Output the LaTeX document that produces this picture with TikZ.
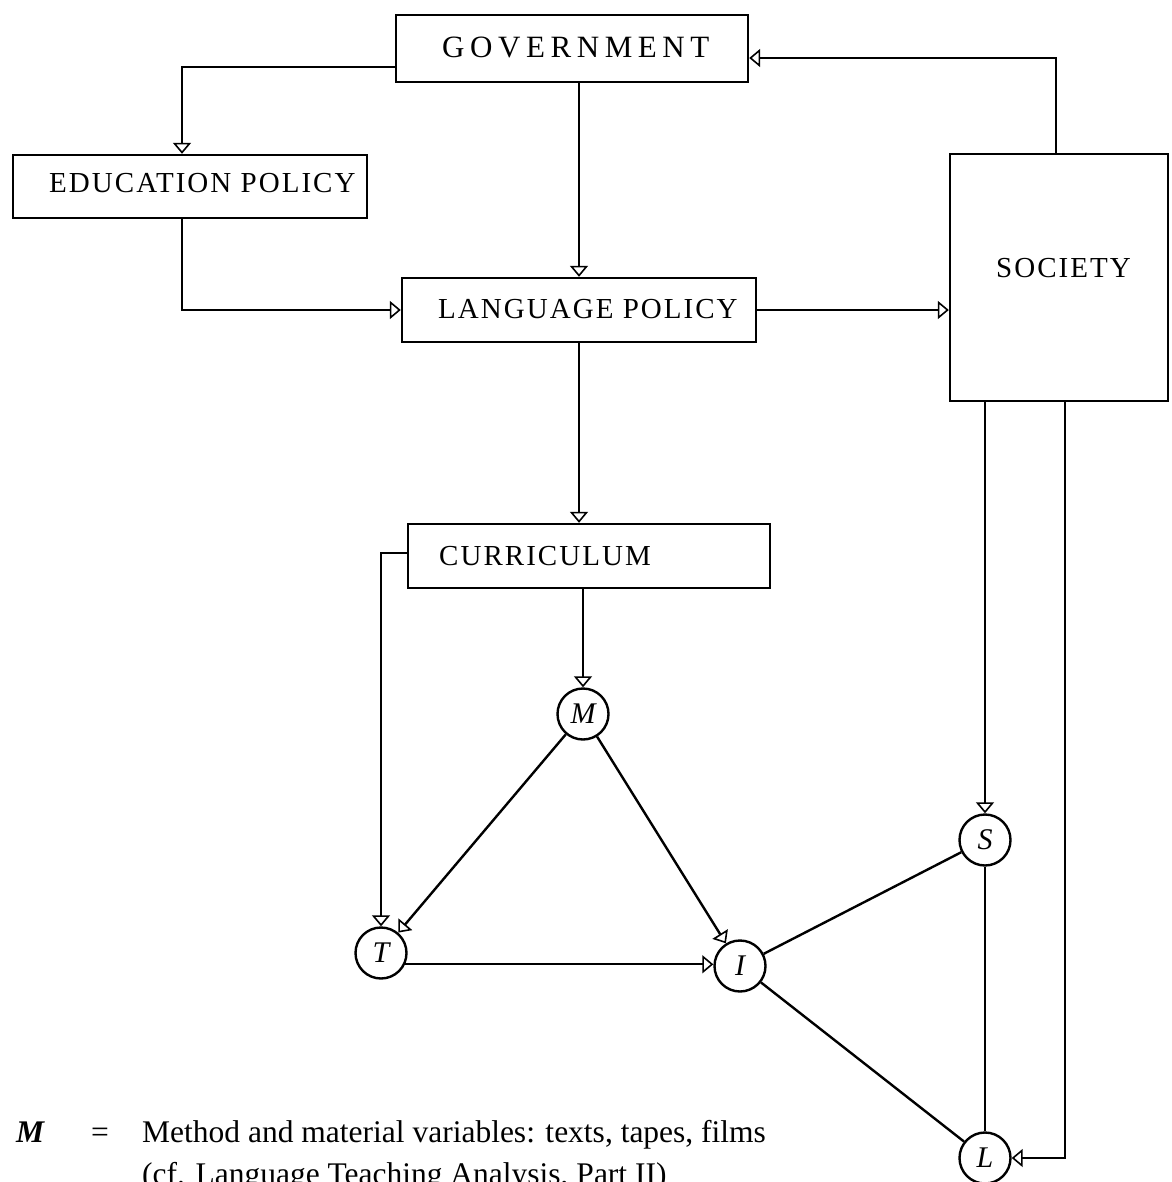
\documentclass[tikz,border=0pt]{standalone}
\usepackage{fontspec}
\setmainfont{Liberation Serif}
\newfontfamily\capsfont[LetterSpace=7]{Liberation Serif}
\newfontfamily\widecapsfont[LetterSpace=18]{Liberation Serif}
\usetikzlibrary{arrows.meta}

\begin{document}
\begin{tikzpicture}[x=1pt,y=-1pt,
  line width=2.4pt,
  box/.style={draw, rectangle, inner sep=0pt},
  boxtext/.style={font=\capsfont\fontsize{29}{32}\selectfont, inner sep=0pt, anchor=base west},
  var/.style={draw, circle, minimum size=51pt, inner sep=0pt,
              font=\fontsize{30}{32}\selectfont\itshape},
  legend/.style={font=\fontsize{31.5}{34}\selectfont, inner sep=0pt, anchor=base west},
  arr/.style={-{Triangle[open,length=11pt,width=18pt,line width=1.6pt]}},
]
\useasboundingbox (0,0) rectangle (1171,1182);

% boxes
\node[box, minimum width=352pt, minimum height=67pt] (gov) at (572,48.5) {};
\node[boxtext, font=\widecapsfont\fontsize{31}{34}\selectfont] (govtext) at (441,58) {GOVERNMENT};

\node[box, minimum width=354pt, minimum height=63pt] (edu) at (190,186.5) {};
\node[boxtext] (edutext) at (48,193) {EDUCATION POLICY};

\node[box, minimum width=354pt, minimum height=64pt] (lang) at (579,310) {};
\node[boxtext] (langtext) at (437,318) {LANGUAGE POLICY};

\node[box, minimum width=218pt, minimum height=247pt] (soc) at (1059,277.5) {};
\node[boxtext] (soctext) at (995,277) {SOCIETY};

\node[box, minimum width=362pt, minimum height=64pt] (cur) at (589,556) {};
\node[boxtext] (curtext) at (438,565) {CURRICULUM};

% variables
\node[var] (M) at (583,714) {M};
\node[var] (T) at (381,953) {T};
\node[var] (I) at (740,966) {I};
\node[var] (S) at (985,840) {S};
\node[var] (L) at (985,1158) {L};

% policy connectors
\draw[arr] ([yshift=-18.5pt]gov.west) -| ([xshift=-8pt]edu.north);
\draw[arr] (gov.south -| lang.north) -- (lang.north);
\draw[arr] ([xshift=-8pt]edu.south) |- (lang.west);
\draw[arr] (lang.east) -- (lang.east -| soc.west);
\draw[arr] ([xshift=-113pt]soc.north east) |- ([yshift=-9.5pt]gov.east);
\draw[arr] (lang.south) -- (lang.south |- cur.north);

% classroom connectors
\draw[arr] ([yshift=3pt]cur.west) -| (T.north);
\draw[arr] (cur.south -| M) -- (M);
\draw[arr] (M) -- (T);
\draw[arr] (M) -- (I);
\draw[arr] (T.-25) -- (T.-25 -| I.west);
\draw (I) -- (S);
\draw (I) -- (L);
\draw (S) -- (L);
\draw[arr] (S |- soc.south) -- (S);
\draw[arr] ([xshift=-104pt]soc.south east) |- (L);

% key
\node[legend, font=\fontsize{31.5}{34}\selectfont\bfseries\itshape] (mkey) at (15,1142) {M};
\node[legend, anchor=base] (eqkey) at (100,1142) {=};
\node[legend] (mtext) at (141,1142) {Method and material variables: texts, tapes, films};
\node[legend] (mref) at (141,1184) {(cf. Language Teaching Analysis, Part II)};
\end{tikzpicture}
\end{document}
